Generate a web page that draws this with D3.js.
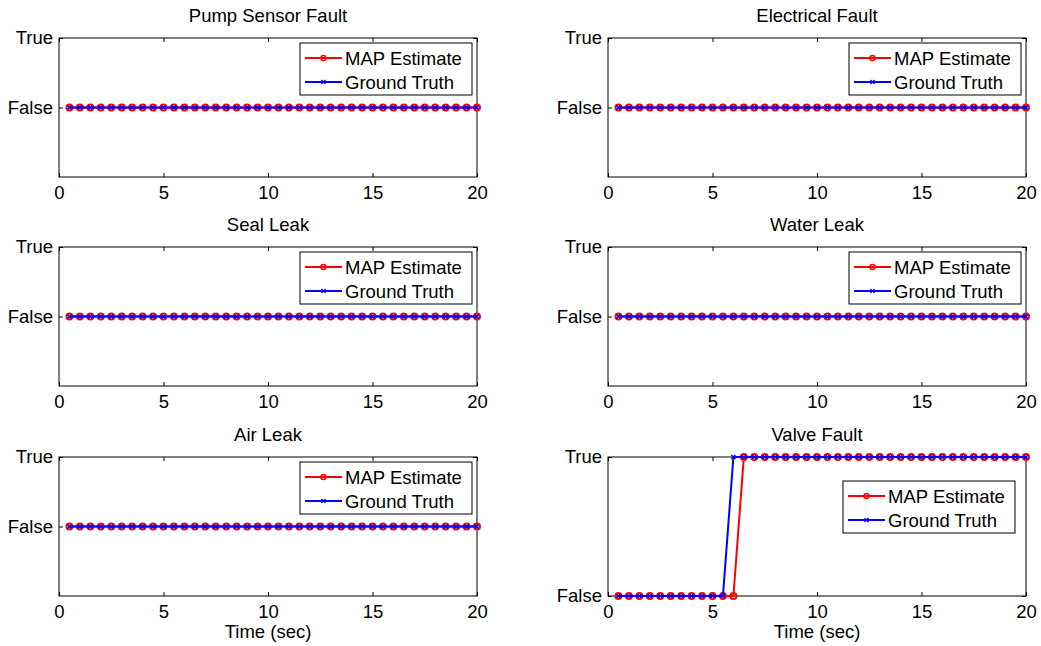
<!DOCTYPE html>
<html>
<head>
<meta charset="utf-8">
<script src="https://cdn.jsdelivr.net/npm/d3@7"></script>
<style>
  body { margin: 0; background: #fff; }
  svg text { font-family: "Liberation Sans", Arial, sans-serif; fill: #000; }
</style>
</head>
<body>
<svg id="chart" width="1041" height="646"></svg>
<script>
// time samples (sec)
const times = [0.5, 1, 1.5, 2, 2.5, 3, 3.5, 4, 4.5, 5, 5.5, 6, 6.5, 7, 7.5, 8, 8.5, 9, 9.5, 10,
               10.5, 11, 11.5, 12, 12.5, 13, 13.5, 14, 14.5, 15, 15.5, 16, 16.5, 17, 17.5, 18, 18.5, 19, 19.5, 20];

// 0 = False, 1 = True
const allFalse = [0, 0, 0, 0, 0, 0, 0, 0, 0, 0, 0, 0, 0, 0, 0, 0, 0, 0, 0, 0,
                  0, 0, 0, 0, 0, 0, 0, 0, 0, 0, 0, 0, 0, 0, 0, 0, 0, 0, 0, 0];
const valveMap   = [0, 0, 0, 0, 0, 0, 0, 0, 0, 0, 0, 0, 1, 1, 1, 1, 1, 1, 1, 1,
                    1, 1, 1, 1, 1, 1, 1, 1, 1, 1, 1, 1, 1, 1, 1, 1, 1, 1, 1, 1];
const valveTruth = [0, 0, 0, 0, 0, 0, 0, 0, 0, 0, 0, 1, 1, 1, 1, 1, 1, 1, 1, 1,
                    1, 1, 1, 1, 1, 1, 1, 1, 1, 1, 1, 1, 1, 1, 1, 1, 1, 1, 1, 1];

const titles = ["Pump Sensor Fault", "Electrical Fault", "Seal Leak", "Water Leak", "Air Leak", "Valve Fault"];
const mapSeries = [allFalse, allFalse, allFalse, allFalse, allFalse, valveMap];
const truthSeries = [allFalse, allFalse, allFalse, allFalse, allFalse, valveTruth];
const yDomains = [[-1, 1], [-1, 1], [-1, 1], [-1, 1], [-1, 1], [0, 1]];
const xTicks = [0, 5, 10, 15, 20];
const yTickLabels = ["False", "True"];
const legendLabels = ["MAP Estimate", "Ground Truth"];

const colLeft = [59, 608];
const rowTop = [38, 247, 457];
const pw = 418, ph = 139;

const svg = d3.select("#chart");

titles.forEach((title, i) => {
  const col = i % 2, row = Math.floor(i / 2);
  const g = svg.append("g").attr("transform", `translate(${colLeft[col]},${rowTop[row]})`);

  const x = d3.scaleLinear().domain([0, 20]).range([0, pw]);
  const y = d3.scaleLinear().domain(yDomains[i]).range([ph, 0]);

  // axes box
  g.append("rect").attr("width", pw).attr("height", ph)
    .attr("fill", "#fff").attr("stroke", "#000").attr("stroke-width", 1);

  const fmtY = d => yTickLabels[d];

  g.append("g").attr("transform", `translate(0,${ph})`)
    .call(d3.axisBottom(x).tickValues(xTicks).tickSize(-4).tickPadding(9));
  g.append("g").call(d3.axisTop(x).tickValues(xTicks).tickSize(-4).tickFormat(""));
  g.append("g").call(d3.axisLeft(y).tickValues([0, 1]).tickSize(-4).tickPadding(6).tickFormat(fmtY));
  g.append("g").attr("transform", `translate(${pw},0)`)
    .call(d3.axisRight(y).tickValues([0, 1]).tickSize(-4).tickFormat(""));

  g.selectAll(".domain").remove();
  g.selectAll(".tick line").attr("stroke", "#000");
  g.selectAll(".tick text").style("font-size", "18.5px");

  // title
  g.append("text").attr("x", pw / 2).attr("y", -16)
    .attr("text-anchor", "middle").style("font-size", "18.5px").text(title);

  if (row === 2) {
    g.append("text").attr("x", pw / 2).attr("y", ph + 42)
      .attr("text-anchor", "middle").style("font-size", "18.5px").text("Time (sec)");
  }

  const line = d3.line().x(d => x(d[0])).y(d => y(d[1]));
  const mapPts = times.map((t, k) => [t, mapSeries[i][k]]);
  const truthPts = times.map((t, k) => [t, truthSeries[i][k]]);

  // MAP estimate (red, circles)
  g.append("path").datum(mapPts).attr("d", line)
    .attr("fill", "none").attr("stroke", "#ff0000").attr("stroke-width", 2);
  g.selectAll(".mapm").data(mapPts).enter().append("circle")
    .attr("cx", d => x(d[0])).attr("cy", d => y(d[1])).attr("r", 3)
    .attr("fill", "none").attr("stroke", "#ff0000").attr("stroke-width", 2);

  // Ground truth (blue, x marks)
  g.append("path").datum(truthPts).attr("d", line)
    .attr("fill", "none").attr("stroke", "#0000ff").attr("stroke-width", 2);
  g.selectAll(".truthm").data(truthPts).enter().append("path")
    .attr("transform", d => `translate(${x(d[0])},${y(d[1])})`)
    .attr("d", "M-2,-2L2,2M-2,2L2,-2")
    .attr("stroke", "#0000ff").attr("stroke-width", 1.4);

  // legend
  const lx = i === 5 ? 235 : 241;
  const ly = i === 5 ? 24 : 5;
  const lg = g.append("g").attr("transform", `translate(${lx},${ly})`);
  lg.append("rect").attr("width", 172).attr("height", 52)
    .attr("fill", "#fff").attr("stroke", "#000").attr("stroke-width", 1);
  legendLabels.forEach((lab, k) => {
    const cy = 15 + k * 24;
    const c = k === 0 ? "#ff0000" : "#0000ff";
    lg.append("line").attr("x1", 5).attr("x2", 42).attr("y1", cy).attr("y2", cy)
      .attr("stroke", c).attr("stroke-width", 2);
    if (k === 0) {
      lg.append("circle").attr("cx", 23.5).attr("cy", cy).attr("r", 2.5)
        .attr("fill", "none").attr("stroke", c).attr("stroke-width", 1.4);
    } else {
      lg.append("path").attr("transform", `translate(23.5,${cy})`)
        .attr("d", "M-2,-2L2,2M-2,2L2,-2").attr("stroke", c).attr("stroke-width", 1.2);
    }
    lg.append("text").attr("x", 45).attr("y", cy + 6.5).style("font-size", "18.5px").text(lab);
  });
});
</script>
</body>
</html>
